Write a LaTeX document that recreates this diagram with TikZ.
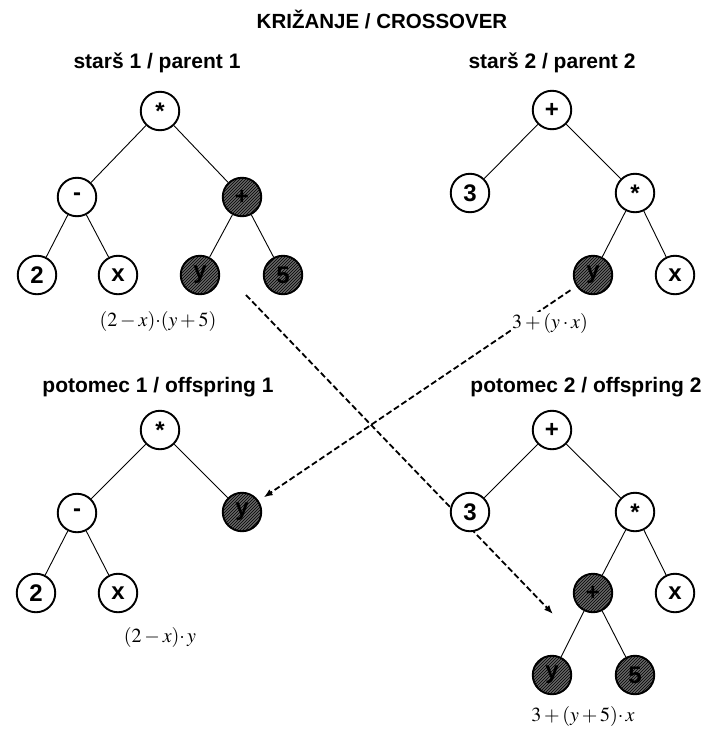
\documentclass[tikz,border=0pt]{standalone}
\usepackage{mathptmx}
\usepackage[no-math]{fontspec}
\setmainfont{Liberation Sans}
\usetikzlibrary{patterns,arrows.meta,backgrounds}

\begin{document}
\begin{tikzpicture}[x=1pt,y=-1pt,
  gbase/.style={circle,draw=black,line width=1.9pt,minimum size=38.5pt,inner sep=0pt,
    font=\fontsize{24}{24}\selectfont\bfseries},
  gnode/.style={gbase,fill=white},
  xnode/.style={gbase,preaction={fill=black!60},pattern=north east lines,pattern color=black},
  edge/.style={line width=0.9pt},
  treetitle/.style={font=\fontsize{21}{21}\selectfont\bfseries},
  formula/.style={fill=white,inner sep=1pt,font=\fontsize{20}{20}\selectfont},
  xarrow/.style={line width=1.8pt,dash pattern=on 6pt off 3pt,-{Latex[length=9pt,width=7pt]}}]
\useasboundingbox (0,0) rectangle (707,737);
% Title
\node[font=\fontsize{20.5}{20.5}\selectfont\bfseries] (title) at (382,20) {KRIŽANJE / CROSSOVER};
% Tree 1: parent 1
\node[treetitle] (p1lab) at (157,63) {starš 1 / parent 1};
\node[gnode] (p1r) at (160,111) {*};
\node[gnode] (p1m) at (77,197) {-};
\node[xnode] (p1p) at (242,197) {+};
\node[gnode] (p1a) at (37,275) {2};
\node[gnode] (p1b) at (118,275) {x};
\node[xnode] (p1c) at (200,275) {y};
\node[xnode] (p1d) at (283,275) {5};
\draw[edge] (p1r) -- (p1m);
\draw[edge] (p1r) -- (p1p);
\draw[edge] (p1m) -- (p1a);
\draw[edge] (p1m) -- (p1b);
\draw[edge] (p1p) -- (p1c);
\draw[edge] (p1p) -- (p1d);
\node[formula] (p1f) at (158,321) {$(2-x){\cdot}(y+5)$};
% Tree 2: parent 2
\node[treetitle] (p2lab) at (552,63) {starš 2 / parent 2};
\node[gnode] (p2r) at (552,110) {+};
\node[gnode] (p2a) at (470,193) {3};
\node[gnode] (p2m) at (635,193) {*};
\node[xnode] (p2y) at (593,275) {y};
\node[gnode] (p2x) at (675,275) {x};
\draw[edge] (p2r) -- (p2a);
\draw[edge] (p2r) -- (p2m);
\draw[edge] (p2m) -- (p2y);
\draw[edge] (p2m) -- (p2x);
\node[formula] (p2f) at (550,323) {$3+(y\cdot x)$};
% Tree 3: offspring 1
\node[treetitle] (o1lab) at (158,387) {potomec 1 / offspring 1};
\node[gnode] (o1r) at (160,430) {*};
\node[gnode] (o1m) at (77,513) {-};
\node[xnode] (o1y) at (242,512) {y};
\node[gnode] (o1a) at (36,593) {2};
\node[gnode] (o1b) at (118,593) {x};
\draw[edge] (o1r) -- (o1m);
\draw[edge] (o1r) -- (o1y);
\draw[edge] (o1m) -- (o1a);
\draw[edge] (o1m) -- (o1b);
\node[formula] (o1f) at (160,637) {$(2-x){\cdot}\,y$};
% Tree 4: offspring 2
\node[treetitle] (o2lab) at (586,387) {potomec 2 / offspring 2};
\node[gnode] (o2r) at (552,430) {+};
\node[gnode] (o2a) at (470,512) {3};
\node[gnode] (o2m) at (635,512) {*};
\node[xnode] (o2p) at (593,593) {+};
\node[gnode] (o2x) at (675,593) {x};
\node[xnode] (o2y) at (552,675) {y};
\node[xnode] (o2d) at (635,675) {5};
\draw[edge] (o2r) -- (o2a);
\draw[edge] (o2r) -- (o2m);
\draw[edge] (o2m) -- (o2p);
\draw[edge] (o2m) -- (o2x);
\draw[edge] (o2p) -- (o2y);
\draw[edge] (o2p) -- (o2d);
\node[formula] (o2f) at (583,716) {$3+(y+5){\cdot}\,x$};
% Crossover arrows, behind the nodes
\coordinate (c1s) at (246,295);
\coordinate (c1e) at (553,614);
\begin{pgfonlayer}{background}
\fill[white] (0,0) rectangle (707,737);
\draw[xarrow] (c1s) -- (c1e);
\draw[xarrow,shorten <=7pt,shorten >=6pt] (p2y) -- (o1y);
\end{pgfonlayer}
\end{tikzpicture}
\end{document}
